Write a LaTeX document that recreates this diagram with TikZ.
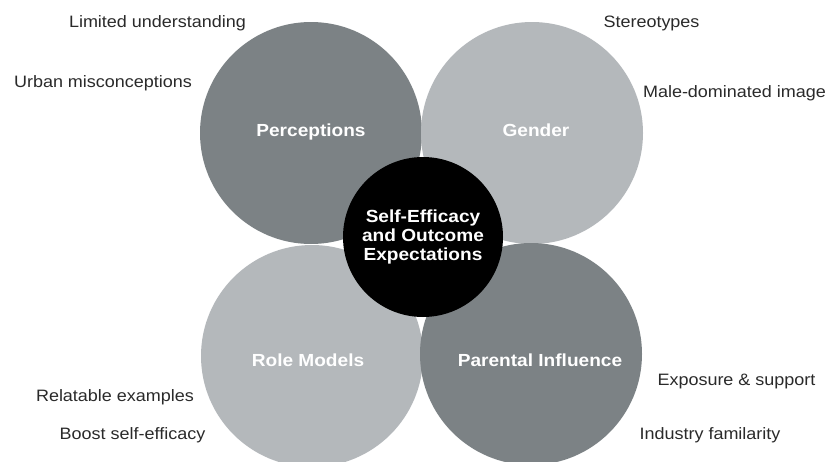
\documentclass[tikz,border=0pt]{standalone}
\usepackage{fontspec}
\setmainfont[FakeStretch=1.09]{Liberation Sans}
\definecolor{darkg}{HTML}{7C8285}
\definecolor{lightg}{HTML}{B4B8BB}
\definecolor{txt}{HTML}{2A2A2A}
\tikzset{
  big/.style={circle, minimum size=222pt, inner sep=0pt, text=white, font=\fontsize{17.5}{19}\selectfont\bfseries},
  inlbl/.style={text=white, inner sep=0pt, font=\fontsize{17.5}{19}\selectfont\bfseries},
  hub/.style={circle, minimum size=160pt, inner sep=0pt, fill=black, text=white, align=center, font=\fontsize{17.5}{19}\selectfont\bfseries},
  lbl/.style={text=txt, inner sep=0pt, font=\fontsize{16.5}{18}\selectfont}
}
\begin{document}
\begin{tikzpicture}[x=1pt,y=-1pt]
\useasboundingbox (0,0) rectangle (825,461);
\fill[white] (0,0) rectangle (825,461);
\node[big, fill=darkg] (perc) at (311,133) {};
\node[big, fill=lightg] (gend) at (532,133) {};
\node[big, fill=lightg] (role) at (312,356) {};
\node[big, fill=darkg] (par) at (531,354) {};
\node[inlbl] (perct) at (311,132) {Perceptions};
\node[inlbl] (gendt) at (536,130) {Gender};
\node[inlbl] (rolet) at (308,360) {Role Models};
\node[inlbl] (part) at (540,360) {Parental Influence};
\node[hub] (hub) at (423,237) {Self-Efficacy\\and Outcome\\Expectations};
\node[lbl] (l1) at (157.5,23) {Limited understanding};
\node[lbl] (l2) at (103,83) {Urban misconceptions};
\node[lbl] (l3) at (651.5,23) {Stereotypes};
\node[lbl] (l4) at (734.5,93) {Male-dominated image};
\node[lbl] (l5) at (115,397) {Relatable examples};
\node[lbl] (l6) at (132.5,435) {Boost self-efficacy};
\node[lbl] (l7) at (736.5,381) {Exposure \& support};
\node[lbl] (l8) at (710,435) {Industry familarity};
\end{tikzpicture}
\end{document}
